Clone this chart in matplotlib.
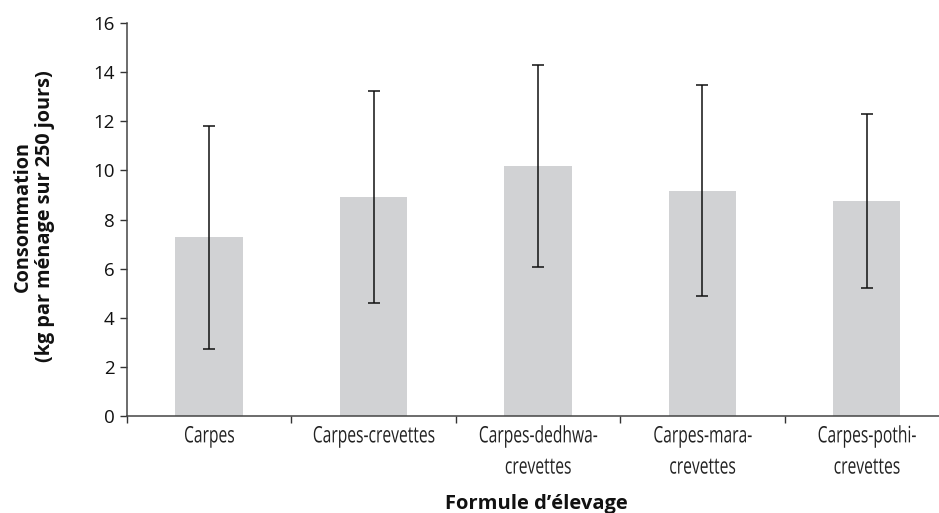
# coding: utf-8

"""
Consommation par formule d'élevage
"""

import matplotlib
matplotlib.use("Agg")
import matplotlib.pyplot as plt
import matplotlib.patheffects as pe
from matplotlib.transforms import Affine2D
import numpy as np

categories = ["Carpes", "Carpes-crevettes", "Carpes-dedhwa-\ncrevettes",
	"Carpes-mara-\ncrevettes", "Carpes-pothi-\ncrevettes"]
means = [7.28, 8.92, 10.18, 9.18, 8.75]
errs = [4.54, 4.32, 4.13, 4.30, 3.53]
yticks = [0, 2, 4, 6, 8, 10, 12, 14, 16]

# pas de police condensée installée : on tasse le texte à l'horizontale
class Squeeze(pe.AbstractPathEffect):
	def __init__(self, sx):
		super().__init__()
		self.sx = sx

	def draw_path(self, renderer, gc, tpath, affine, rgbFace=None):
		ext = tpath.get_extents()
		cx = (ext.x0 + ext.x1) / 2
		t = Affine2D().translate(-cx, 0).scale(self.sx, 1).translate(cx, 0)
		renderer.draw_path(gc, tpath, t + affine, rgbFace)

def main():
	fig = plt.figure(figsize=(9.39, 5.13), dpi=100)
	# axe qui déborde à droite comme l'original
	ax = fig.add_axes([0.1352, 0.189, 0.8754, 0.766])

	xs = np.arange(len(categories))
	ax.bar(xs, means, width=0.41, color="#d1d2d4", zorder=1)
	ax.errorbar(xs, means, yerr=errs, fmt="none", ecolor="#111111",
		elinewidth=1.1, capsize=4.3, capthick=1.1, zorder=2)

	ax.set_xlim(-0.5, len(categories) - 0.5)
	ax.set_ylim(0, 16)
	ax.set_yticks(yticks)
	ax.set_yticklabels([str(v) for v in yticks], fontsize=13.5, family="Open Sans",
		color="#111111")

	# ticks entre les catégories
	ax.set_xticks(np.arange(-0.5, len(categories), 1.0))
	ax.set_xticklabels([])
	ax.set_xticks(xs, minor=True)
	ax.set_xticklabels(categories, minor=True, fontsize=16.3, family="Open Sans",
		linespacing=1.4, color="#222222")
	for lab in ax.get_xticklabels(minor=True):
		lab.set_path_effects([Squeeze(0.69)])
	ax.tick_params(axis="x", which="minor", length=0, pad=6)
	ax.tick_params(axis="x", which="major", length=5, width=1, color="#333333", direction="out")
	ax.tick_params(axis="y", length=5, width=1, color="#333333", pad=4)

	for s in ["top", "right"]:
		ax.spines[s].set_visible(False)
	for s in ["left", "bottom"]:
		ax.spines[s].set_color("#444444")
		ax.spines[s].set_linewidth(1.1)

	fig.text(0.036, 0.578, "Consommation\n(kg par ménage sur 250 jours)", rotation=90,
		ha="center", va="center", fontsize=14.3, fontweight="bold",
		family="Open Sans", linespacing=1.15, color="#111111")
	fig.text(0.5716, 0.008, "Formule d\u2019élevage", ha="center", va="baseline",
		fontsize=14.5, fontweight="bold", family="Open Sans", color="#111111")

	fig.savefig("out.png", dpi=100)

if __name__ == "__main__":
	main()
